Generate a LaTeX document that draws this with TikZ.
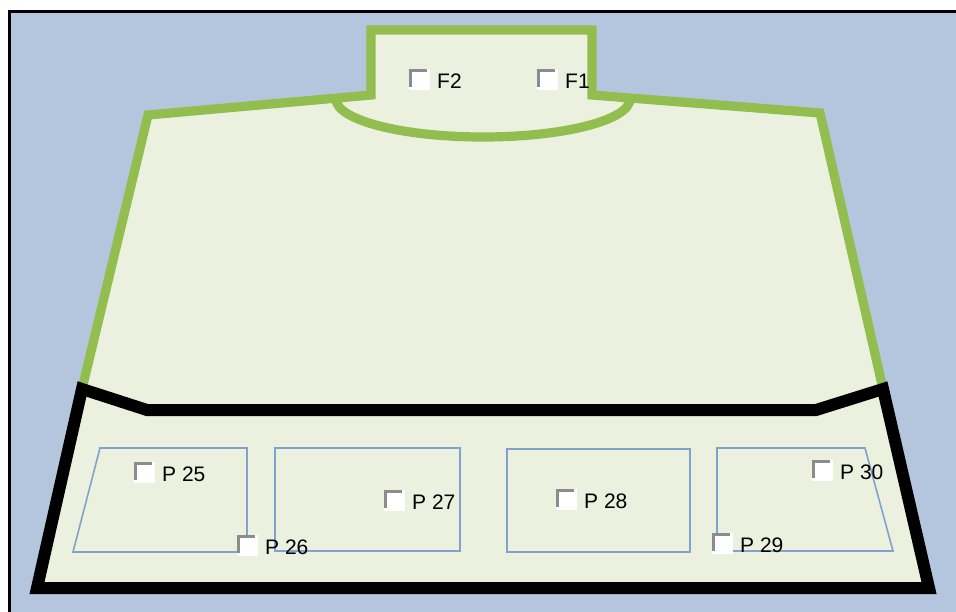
\documentclass[tikz,border=0pt]{standalone}
\usepackage{fontspec}
\setmainfont{Liberation Sans}
\begin{document}
\begin{tikzpicture}[x=0.5pt,y=-0.5pt,
  greenline/.style={draw=lineGreen,line width=4.6pt,line join=miter},
  blackline/.style={draw=black,line width=6pt,line join=miter},
  bay/.style={draw=bayBlue,line width=0.8pt},
  lbl/.style={font=\fontsize{10.5pt}{12pt}\selectfont,anchor=west,inner sep=0pt},
  cbox/.style={fill=white,draw=none,minimum size=10.5pt,inner sep=0pt}]
\definecolor{skyBlue}{HTML}{B3C6DD}
\definecolor{lineGreen}{HTML}{92BE4F}
\definecolor{floorGreen}{HTML}{EBF1DE}
\definecolor{bayBlue}{HTML}{7FA3CC}
\definecolor{checkGray}{HTML}{8C8C8C}
\useasboundingbox (0,0) rectangle (956,611);
\clip (0,0) rectangle (956,611);
% page background and frame
\fill[white] (0,0) rectangle (956,611);
\fill[skyBlue] (9,11) rectangle (970,620);
\draw[black,line width=1.5pt] (9,625) -- (9,11) -- (970,11);
% floor area
\coordinate (nTL) at (371,30);
\coordinate (nTR) at (592,30);
\coordinate (nBL) at (371,95);
\coordinate (nBR) at (592,95);
\coordinate (sL) at (148,115);
\coordinate (sR) at (820,113);
\coordinate (wL) at (82,389);
\coordinate (wR) at (883,389);
\coordinate (bL) at (37,588);
\coordinate (bR) at (929,588);
\coordinate (jL) at (147,410);
\coordinate (jR) at (816,410);
\fill[floorGreen] (wL) -- (sL) -- (nBL) -- (nTL) -- (nTR) -- (nBR) -- (sR) -- (wR) -- (bR) -- (bL) -- cycle;
% upper hall outline
\draw[greenline] (wL) -- (sL) -- (nBL) -- (nTL) -- (nTR) -- (nBR) -- (sR) -- (wR);
\draw[greenline] (336,99) arc[start angle=180,end angle=0,x radius=147,y radius=38];
% parking zone outline
\draw[blackline] (bL) -- (wL) -- (jL) -- (jR) -- (wR) -- (bR) -- cycle;
% parking bays
\draw[bay] (100,448) -- (247,448) -- (247,552) -- (73,552) -- cycle;
\draw[bay] (275,448) rectangle (460,551);
\draw[bay] (507,449) rectangle (690,552);
\draw[bay] (717,448) -- (865,448) -- (893,551) -- (717,551) -- cycle;
% check boxes with labels
\foreach \nm/\x/\y/\t in {f2/409/69/F2, f1/537/69/F1, p25/134/462/P 25, p26/237/535/P 26,
  p27/384/490/P 27, p28/556/489/P 28, p29/712/533/P 29, p30/812/460/P 30}{
  \node[cbox,anchor=north west] (\nm) at (\x,\y) {};
  \draw[checkGray,line width=1.3pt] ([shift={(1.3,-4)}]\nm.south west) -- ([shift={(1.3,1.3)}]\nm.north west) -- ([shift={(-4,1.3)}]\nm.north east);
  \node[lbl] (\nm-t) at ([xshift=3pt,yshift=-0.5pt]\nm.east) {\t};
}
\end{tikzpicture}
\end{document}
